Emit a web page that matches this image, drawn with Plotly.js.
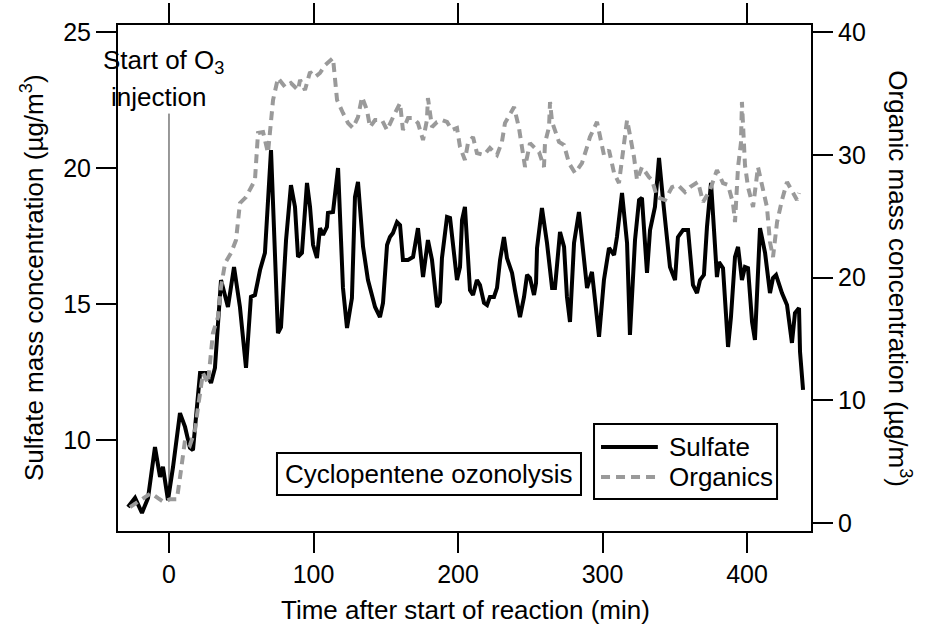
<!DOCTYPE html>
<html><head><meta charset="utf-8">
<script src="https://cdn.plot.ly/plotly-3.0.1.min.js"></script>
<style>html,body{margin:0;padding:0;background:#fff}#chart{width:925px;height:630px}</style>
</head><body><div id="chart"></div>
<script>
const sulfateTime = [-28.4, -23.5, -18.7, -14.5, -9.7, -6.2, -4.2, -0.7, 2.8, 7.6, 11.1, 14.5, 16.6, 19.0, 21.5, 25.6, 29.1, 31.8, 33.9, 36.0, 40.8, 45.0, 49.1, 53.3, 56.7, 59.5, 63.0, 66.4, 70.6, 75.4, 77.5, 81.0, 84.4, 87.2, 89.3, 92.0, 95.5, 97.6, 99.7, 102.4, 104.5, 106.6, 109.3, 110.0, 113.5, 117.0, 120.4, 123.2, 126.6, 128.7, 130.8, 134.3, 137.7, 142.6, 146.0, 148.1, 150.9, 152.9, 155.0, 157.8, 159.9, 161.9, 165.4, 168.9, 172.3, 175.8, 179.2, 182.0, 185.5, 187.5, 188.9, 192.4, 194.5, 196.5, 199.3, 201.4, 202.8, 204.8, 208.3, 210.4, 213.1, 215.2, 218.0, 220.1, 222.1, 224.9, 227.0, 229.1, 231.8, 233.9, 237.4, 239.4, 242.9, 245.7, 247.8, 249.8, 252.6, 254.0, 254.7, 258.1, 261.6, 265.1, 267.1, 270.6, 273.4, 275.4, 277.5, 280.3, 283.7, 285.8, 289.3, 292.7, 294.8, 297.6, 301.0, 304.5, 308.0, 310.0, 313.5, 317.0, 319.0, 322.5, 325.3, 327.3, 330.8, 332.9, 336.3, 339.1, 341.9, 344.6, 346.7, 350.2, 352.2, 355.7, 359.2, 362.6, 365.4, 367.5, 370.2, 372.3, 375.1, 377.9, 379.2, 380.6, 383.4, 386.9, 388.9, 391.7, 393.8, 396.5, 398.6, 400.7, 403.5, 405.5, 409.0, 412.5, 415.9, 418.0, 420.1, 424.2, 427.7, 431.1, 433.2, 436.0, 436.7, 438.8];
const sulfate = [7.54, 7.87, 7.32, 7.87, 9.74, 8.64, 9.01, 7.79, 9.01, 10.99, 10.48, 9.71, 9.63, 11.1, 12.46, 12.46, 12.1, 12.65, 14.52, 15.88, 14.89, 16.36, 14.89, 12.65, 15.26, 15.33, 16.25, 16.88, 20.66, 13.93, 14.15, 17.35, 19.37, 18.57, 16.73, 16.88, 19.45, 18.57, 17.17, 16.69, 17.79, 17.54, 17.83, 18.35, 18.38, 20.0, 15.59, 14.12, 15.22, 18.93, 19.49, 17.1, 15.88, 14.89, 14.52, 15.04, 17.17, 17.46, 17.61, 18.01, 17.9, 16.62, 16.62, 16.73, 17.79, 15.99, 17.35, 16.62, 14.89, 15.07, 16.69, 18.2, 18.16, 17.1, 15.88, 16.36, 18.09, 18.57, 15.51, 15.33, 15.88, 15.7, 15.04, 14.96, 15.26, 15.26, 15.59, 16.62, 17.46, 16.69, 16.14, 15.51, 14.52, 15.26, 16.07, 15.96, 15.33, 15.77, 17.06, 18.53, 17.24, 15.59, 15.59, 17.65, 17.1, 15.26, 14.34, 17.24, 18.38, 17.35, 15.59, 16.18, 15.15, 13.79, 15.88, 17.06, 16.8, 17.46, 19.08, 17.24, 13.86, 17.35, 18.82, 18.9, 16.14, 17.72, 18.57, 20.37, 18.82, 17.46, 16.36, 15.88, 17.46, 17.72, 17.72, 15.7, 15.4, 15.88, 16.07, 17.83, 19.45, 17.1, 15.99, 16.54, 16.32, 13.42, 14.52, 16.73, 17.1, 15.88, 16.36, 16.32, 14.34, 13.68, 17.79, 16.88, 15.4, 15.96, 16.07, 15.4, 14.96, 13.57, 14.67, 14.85, 13.24, 11.84];
const organicsTime = [-27.0, -16.6, -12.5, -7.6, -3.5, 0.7, 5.5, 8.3, 11.1, 14.5, 18.0, 20.1, 23.5, 27.0, 30.4, 33.9, 36.0, 38.8, 42.9, 46.4, 49.1, 53.3, 59.5, 61.6, 65.1, 68.5, 72.0, 75.4, 80.3, 84.4, 89.3, 90.7, 94.1, 97.6, 101.0, 104.5, 108.0, 113.5, 114.9, 116.3, 120.4, 123.9, 127.3, 130.8, 133.6, 137.0, 139.1, 142.6, 147.4, 150.9, 156.4, 159.9, 161.9, 165.4, 168.9, 172.3, 175.8, 178.5, 179.2, 182.0, 185.5, 188.9, 192.4, 195.8, 199.3, 201.4, 204.8, 206.9, 210.4, 213.1, 218.0, 222.1, 227.0, 230.4, 232.5, 238.8, 242.2, 244.3, 246.4, 249.8, 256.1, 259.5, 260.2, 263.0, 263.7, 265.1, 269.9, 273.4, 276.8, 281.0, 285.8, 289.3, 291.3, 296.2, 298.3, 301.0, 304.5, 308.0, 311.4, 314.9, 317.0, 319.0, 321.8, 323.9, 327.3, 332.2, 334.3, 337.7, 343.3, 348.1, 352.2, 357.1, 360.6, 366.1, 369.6, 374.4, 379.2, 383.4, 386.9, 390.3, 391.7, 393.8, 395.8, 396.5, 398.6, 400.7, 404.2, 407.6, 411.1, 413.8, 415.9, 418.0, 420.8, 424.2, 427.7, 431.1, 434.6, 436.0];
const organics = [1.29, 2.1, 2.43, 2.02, 1.7, 1.94, 1.94, 4.3, 6.75, 6.34, 7.56, 9.44, 12.21, 11.39, 15.47, 16.77, 19.22, 21.17, 21.99, 23.05, 26.06, 26.55, 27.94, 31.77, 31.85, 30.14, 34.46, 36.25, 35.52, 35.84, 35.27, 36.09, 35.27, 36.74, 36.33, 36.66, 37.31, 37.88, 36.33, 34.46, 33.4, 32.58, 32.18, 33.07, 34.7, 33.64, 32.26, 32.83, 32.83, 32.01, 33.4, 34.21, 32.01, 32.99, 32.99, 32.58, 31.2, 32.83, 34.62, 32.26, 32.67, 32.83, 32.67, 32.01, 32.18, 30.63, 29.57, 30.95, 31.44, 30.14, 29.98, 30.55, 29.98, 31.04, 32.58, 33.89, 32.18, 30.38, 29.0, 30.95, 30.22, 29.0, 30.95, 32.26, 34.3, 32.67, 31.04, 30.79, 29.32, 28.51, 29.32, 30.63, 31.44, 32.67, 31.44, 29.98, 30.38, 28.51, 27.69, 30.63, 32.83, 31.61, 29.81, 27.94, 29.0, 28.18, 27.94, 26.55, 26.31, 27.37, 27.53, 26.96, 27.37, 27.78, 26.15, 27.12, 28.75, 27.69, 27.53, 26.06, 24.51, 29.0, 30.95, 34.3, 29.16, 27.37, 25.74, 29.0, 27.12, 25.74, 22.89, 21.66, 24.51, 26.31, 27.78, 27.12, 26.31, 26.88];
const xTicks = [0, 100, 200, 300, 400];
const sulfateTicks = [10, 15, 20, 25];
const organicsTicks = [0, 10, 20, 30, 40];
const seriesNames = ['Sulfate', 'Organics'];
const o3Start = 0;

const FONT = '"Liberation Sans", Arial, Helvetica, sans-serif';
const FS = 25;
const TFS = 26;
const DASH = '9px,6px';

const traces = [
  {x: sulfateTime, y: sulfate, type: 'scatter', mode: 'lines', name: seriesNames[0],
   line: {color: '#000000', width: 4}, yaxis: 'y', showlegend: false},
  {x: organicsTime, y: organics, type: 'scatter', mode: 'lines', name: seriesNames[1],
   line: {color: '#9a9a9a', width: 4, dash: DASH}, yaxis: 'y2', showlegend: false}
];

const axisCommon = {
  showline: true, linecolor: '#000', linewidth: 2,
  ticks: 'outside', ticklen: 20, tickwidth: 2, tickcolor: '#000',
  showgrid: false, zeroline: false,
  tickfont: {family: FONT, size: FS, color: '#000'}
};

const layout = {
  width: 925, height: 630,
  margin: {l: 118, r: 114, t: 25, b: 99, pad: 0},
  paper_bgcolor: '#fff', plot_bgcolor: '#fff',
  showlegend: false,
  font: {family: FONT, size: FS, color: '#000'},
  xaxis: Object.assign({}, axisCommon, {range: [-35.29, 444.29], tickvals: xTicks, mirror: 'ticks'}),
  yaxis: Object.assign({}, axisCommon, {range: [6.654, 25.257], tickvals: sulfateTicks}),
  yaxis2: Object.assign({}, axisCommon, {range: [-0.652, 40.57], tickvals: organicsTicks, overlaying: 'y', side: 'right'}),
  shapes: [
    {type: 'line', xref: 'x', yref: 'y', x0: o3Start, x1: o3Start, y0: 7.8, y1: 22.0,
     line: {color: '#333', width: 1}, layer: 'below'},
    {type: 'rect', xref: 'paper', yref: 'paper', x0: 0.2294, x1: 0.6681, y0: 0.0711, y1: 0.1542,
     line: {color: '#000', width: 2}, fillcolor: 'rgba(255,255,255,0)'},
    {type: 'rect', xref: 'paper', yref: 'paper', x0: 0.6869, x1: 0.951, y0: 0.0632, y1: 0.2115,
     line: {color: '#000', width: 2}, fillcolor: 'rgba(255,255,255,0)'},
    {type: 'line', xref: 'paper', yref: 'paper', x0: 0.697, x1: 0.779, y0: 0.166, y1: 0.166,
     line: {color: '#000', width: 4}},
    {type: 'line', xref: 'paper', yref: 'paper', x0: 0.697, x1: 0.779, y0: 0.1067, y1: 0.1067,
     line: {color: '#9a9a9a', width: 4, dash: DASH}}
  ],
  annotations: [
    {text: 'Time after start of reaction (min)', xref: 'paper', yref: 'paper', x: 0.502, y: -0.156,
     xanchor: 'center', yanchor: 'middle', showarrow: false, font: {family: FONT, size: TFS, color: '#000'}},
    {text: 'Sulfate mass concentration (µg/m<sup>3</sup>)', xref: 'paper', yref: 'paper', x: -0.124, y: 0.5,
     xanchor: 'center', yanchor: 'middle', textangle: -90, showarrow: false, font: {family: FONT, size: TFS, color: '#000'}},
    {text: 'Organic mass concentration (µg/m<sup>3</sup>)', xref: 'paper', yref: 'paper', x: 1.128, y: 0.498,
     xanchor: 'center', yanchor: 'middle', textangle: 90, showarrow: false, font: {family: FONT, size: TFS, color: '#000'}},
    {text: 'Start of O<sub>3</sub>', xref: 'x', yref: 'paper', x: -3.5, y: 0.927,
     xanchor: 'center', yanchor: 'middle', showarrow: false, font: {family: FONT, size: TFS, color: '#000'}},
    {text: 'injection', xref: 'x', yref: 'paper', x: -7.6, y: 0.858,
     xanchor: 'center', yanchor: 'middle', showarrow: false, font: {family: FONT, size: TFS, color: '#000'}},
    {text: 'Cyclopentene ozonolysis', xref: 'paper', yref: 'paper', x: 0.449, y: 0.1126,
     xanchor: 'center', yanchor: 'middle', showarrow: false, font: {family: FONT, size: TFS, color: '#000'}},
    {text: seriesNames[0], xref: 'paper', yref: 'paper', x: 0.792, y: 0.166,
     xanchor: 'left', yanchor: 'middle', showarrow: false, font: {family: FONT, size: TFS, color: '#000'}},
    {text: seriesNames[1], xref: 'paper', yref: 'paper', x: 0.792, y: 0.1067,
     xanchor: 'left', yanchor: 'middle', showarrow: false, font: {family: FONT, size: TFS, color: '#000'}}
  ]
};

Plotly.newPlot('chart', traces, layout, {staticPlot: true, displayModeBar: false});
</script>
</body></html>
